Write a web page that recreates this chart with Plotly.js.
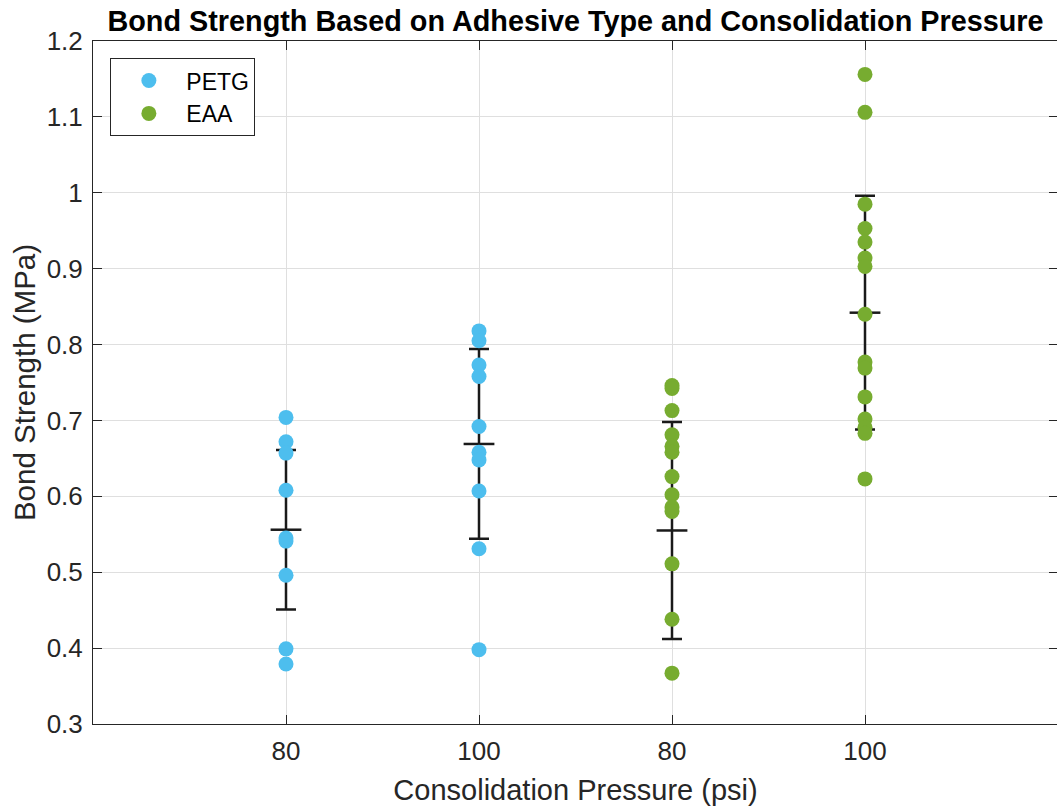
<!DOCTYPE html>
<html>
<head>
<meta charset="utf-8">
<script src="https://cdn.plot.ly/plotly-3.0.1.min.js"></script>
<style>
html, body { margin: 0; padding: 0; overflow: hidden; background: #fff; }
#chart { width: 1067px; height: 811px; }
</style>
</head>
<body>
<div id="chart"></div>
<script>
// Category positions and tick labels
const positions = [1, 2, 3, 4];
const tickLabels = ["80", "100", "80", "100"];

// Individual samples (MPa)
const petg80 = [0.704, 0.672, 0.657, 0.608, 0.545, 0.541, 0.496, 0.399, 0.379];
const petg100 = [0.818, 0.805, 0.773, 0.758, 0.692, 0.658, 0.648, 0.607, 0.531, 0.398];
const eaa80 = [0.746, 0.742, 0.713, 0.681, 0.666, 0.658, 0.626, 0.602, 0.586, 0.580, 0.511, 0.438, 0.367];
const eaa100 = [1.156, 1.106, 0.985, 0.953, 0.935, 0.914, 0.903, 0.840, 0.777, 0.769, 0.731, 0.702, 0.691, 0.683, 0.623];

// Group means and error-bar half lengths
const means = [0.556, 0.669, 0.555, 0.842];
const errs = [0.105, 0.125, 0.143, 0.154];

const FONT = "Liberation Sans, Arial, Helvetica, sans-serif";
const TXT = "#262626";
const PETG_COLOR = "#4DBEEE";
const EAA_COLOR = "#77AC30";

function rep(x, arr) { return arr.map(() => x); }

const traces = [
  {
    type: "scatter", mode: "markers",
    x: positions, y: means,
    showlegend: false, hoverinfo: "skip",
    marker: { symbol: "line-ew", size: 22, color: "#1a1a1a", line: { color: "#1a1a1a", width: 2.5 } },
    error_y: { type: "data", array: errs, visible: true, color: "#1a1a1a", thickness: 2.5, width: 10 }
  },
  {
    type: "scatter", mode: "markers", name: "PETG",
    x: rep(positions[0], petg80).concat(rep(positions[1], petg100)),
    y: petg80.concat(petg100),
    marker: { size: 15, color: PETG_COLOR }
  },
  {
    type: "scatter", mode: "markers", name: "EAA",
    x: rep(positions[2], eaa80).concat(rep(positions[3], eaa100)),
    y: eaa80.concat(eaa100),
    marker: { size: 15, color: EAA_COLOR }
  }
];

const layout = {
  width: 1067, height: 811,
  margin: { l: 93, r: 9, t: 41, b: 87 },
  paper_bgcolor: "#fff", plot_bgcolor: "#fff",
  font: { family: FONT, color: TXT, size: 26 },
  title: {
    text: "<b>Bond Strength Based on Adhesive Type and Consolidation Pressure</b>",
    font: { family: FONT, size: 28.8, color: "#000" },
    x: 0.5, xref: "paper", xanchor: "center",
    y: 0.974, yref: "container", yanchor: "middle"
  },
  xaxis: {
    range: [0, 5],
    tickmode: "array", tickvals: positions, ticktext: tickLabels,
    showgrid: true, gridcolor: "#dfdfdf", gridwidth: 1,
    zeroline: false,
    showline: true, linecolor: TXT, linewidth: 1, mirror: "ticks",
    ticks: "inside", ticklen: 9, tickcolor: TXT, tickwidth: 1,
    ticklabelstandoff: 4,
    tickfont: { family: FONT, size: 26, color: TXT },
    title: { text: "Consolidation Pressure (psi)", font: { family: FONT, size: 29, color: TXT }, standoff: 14 }
  },
  yaxis: {
    range: [0.3, 1.2], dtick: 0.1, tick0: 0.3,
    showgrid: true, gridcolor: "#dfdfdf", gridwidth: 1,
    zeroline: false,
    showline: true, linecolor: TXT, linewidth: 1, mirror: "ticks",
    ticks: "inside", ticklen: 9, tickcolor: TXT, tickwidth: 1,
    ticklabelstandoff: 4,
    tickfont: { family: FONT, size: 26, color: TXT },
    title: { text: "Bond Strength (MPa)", font: { family: FONT, size: 29.5, color: TXT }, standoff: 2 }
  },
  legend: {
    x: 0.018, xanchor: "left", y: 0.975, yanchor: "top",
    bgcolor: "#fff", bordercolor: TXT, borderwidth: 1,
    font: { family: FONT, size: 23, color: "#000" },
    itemwidth: 65, tracegroupgap: 0
  },
  showlegend: true
};

Plotly.newPlot("chart", traces, layout, { displayModeBar: false, staticPlot: true });
</script>
</body>
</html>
